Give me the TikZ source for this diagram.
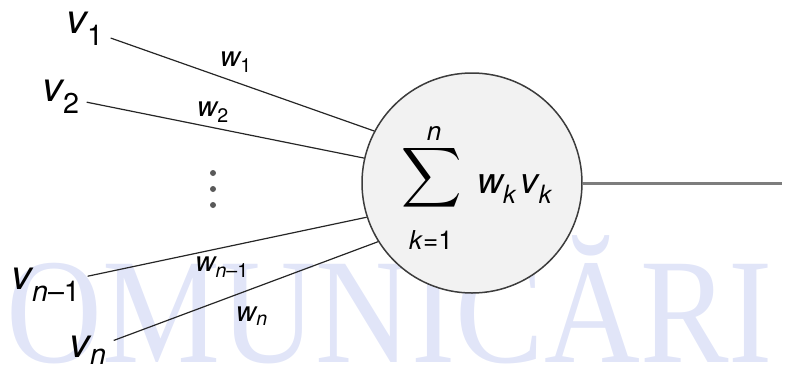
\documentclass[tikz,border=0pt]{standalone}
\usepackage{amsmath, exscale, graphicx}
\usepackage{fontspec}
\setmainfont{TeX Gyre Heros}
\newfontfamily\wmfont{Liberation Serif}
\usepackage{tikz}
\usetikzlibrary{positioning}

\definecolor{wmblue}{RGB}{225,229,248}
\definecolor{rimgray}{RGB}{60,60,60}
\definecolor{outgray}{RGB}{125,125,125}
\definecolor{cellfill}{RGB}{242,242,242}

\newcommand{\vsub}[2]{$\textit{#1}_{\text{#2}}$}

\begin{document}
\begin{tikzpicture}[x=1pt, y=-1pt,
		inlabel/.style={inner sep=7pt, font=\fontsize{41}{41}\selectfont},
		wlabel/.style={inner sep=0pt, font=\fontsize{28}{28}\selectfont},
		limlabel/.style={inner sep=0pt, font=\fontsize{26}{26}\selectfont},
		edge/.style={line width=1.2pt, black!85}]
	\useasboundingbox (0,0) rectangle (788,368);
	
	% 水印
	\begin{scope}
		\clip (0,0) rectangle (788,368);
		\node[anchor=base west, inner sep=0pt, text=wmblue, xscale=0.885,
		font=\fontsize{150}{150}\wmfont] (wm) at (6,362) {OMUNICĂRI};
	\end{scope}
	
	% 求和单元
	\node[circle, minimum size=220pt, fill=cellfill, draw=rimgray, line width=1.5pt] (sum) at (472,183) {};
	\node[inner sep=0pt] (sig) at (432,178) {\resizebox*{!}{67pt}{$\displaystyle\sum$}};
	\node[limlabel] (up) at (434,133) {\textit{n}};
	\node[limlabel] (low) at (431,240) {\textit{k}=1};
	\node[inner sep=0pt, font=\fontsize{36}{36}\selectfont] (prod) at (515,189)
	{\vsub{w}{\textit{k}}\kern4pt\vsub{v}{\textit{k}}};
	
	% 输入
	\node[inlabel] (v1) at (85,29) {\vsub{v}{1}};
	\node[inlabel] (v2) at (61,97) {\vsub{v}{2}};
	\node[inlabel] (vm) at (46,285) {\vsub{v}{\textit{n}--1}};
	\node[inlabel] (vn) at (88,350) {\vsub{v}{\textit{n}}};
	
	\draw[edge] (v1) -- (sum.152);
	\draw[edge] (v2) -- (sum.167);
	\draw[edge] (vm) -- (sum.198);
	\draw[edge] (vn) -- (sum.212);
	
	% 权重
	\node[wlabel] (w1) at (236,62) {\vsub{w}{1}};
	\node[wlabel] (w2) at (213,112) {\vsub{w}{2}};
	\node[wlabel] (wm1) at (222,267) {\vsub{w}{\textit{n}--1}};
	\node[wlabel] (wn) at (252,316) {\vsub{w}{\textit{n}}};
	
	% 省略号
	\foreach \y in {173,189,205}
	\fill[black!65] (213,\y) circle (3);
	
	% 输出
	\coordinate (out) at (782,183);
	\draw[line width=3pt, outgray] (sum) -- (out);
	
\end{tikzpicture}
\end{document}
